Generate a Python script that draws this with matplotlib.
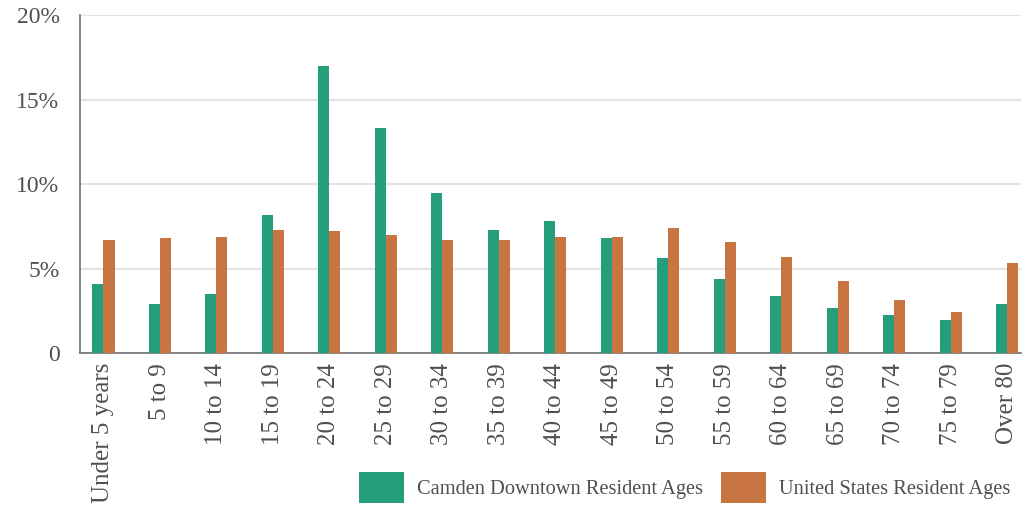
import numpy as np
import matplotlib
matplotlib.use("Agg")
import matplotlib.pyplot as plt
from matplotlib.ticker import FixedLocator

plt.rcParams['font.family'] = ['Liberation Serif', 'DejaVu Serif']

## age groups and shares (%)
age_groups = ["Under 5 years", "5 to 9", "10 to 14", "15 to 19", "20 to 24", "25 to 29",
              "30 to 34", "35 to 39", "40 to 44", "45 to 49", "50 to 54", "55 to 59",
              "60 to 64", "65 to 69", "70 to 74", "75 to 79", "Over 80"]
camden = [4.1, 2.9, 3.5, 8.2, 17.0, 13.3, 9.5, 7.3, 7.8, 6.8, 5.6, 4.4, 3.35, 2.65, 2.25, 1.95, 2.9]
us = [6.7, 6.8, 6.9, 7.3, 7.2, 7.0, 6.7, 6.7, 6.9, 6.9, 7.4, 6.55, 5.7, 4.25, 3.15, 2.45, 5.35]

green = "#259F7B"
orange = "#C87541"
text_col = "#4F4F4F"

fig = plt.figure(figsize=(10.3, 5.08), dpi=100)
ax = fig.add_axes([0.078, 0.305, 0.913, 0.665])

x = np.arange(len(age_groups))
w = 0.195
ax.bar(x - w / 2, camden, w, color=green, label="Camden Downtown Resident Ages", zorder=3)
ax.bar(x + w / 2, us, w, color=orange, label="United States Resident Ages", zorder=3)

ax.set_xlim(-0.41, len(age_groups) - 0.76)
ax.set_ylim(0, 20)
ax.yaxis.set_major_locator(FixedLocator([0, 5, 10, 15, 20]))
ax.set_yticklabels(["0", "5%", "10%", "15%", "20%"], fontsize=17, color=text_col)
ax.set_xticks(x)
ax.set_xticklabels(age_groups, rotation=90, fontsize=18, color=text_col)
ax.tick_params(length=0, pad=7)
ax.tick_params(axis='y', pad=15)

ax.grid(axis='y', color="#E3E3E3", linewidth=1.5, zorder=0)
for s in ["top", "right"]:
    ax.spines[s].set_visible(False)
ax.spines["left"].set_color("#707070")
ax.spines["bottom"].set_color("#707070")
ax.spines["left"].set_linewidth(1.2)
ax.spines["bottom"].set_linewidth(1.2)

fig.legend(loc="center right", bbox_to_anchor=(0.981, 0.04), ncol=2, frameon=False,
           fontsize=14.7, labelcolor=text_col, handlelength=2.2, handleheight=2.0,
           columnspacing=0.9, handletextpad=0.64, borderpad=0, borderaxespad=0)

fig.savefig("out.png", dpi=100)
